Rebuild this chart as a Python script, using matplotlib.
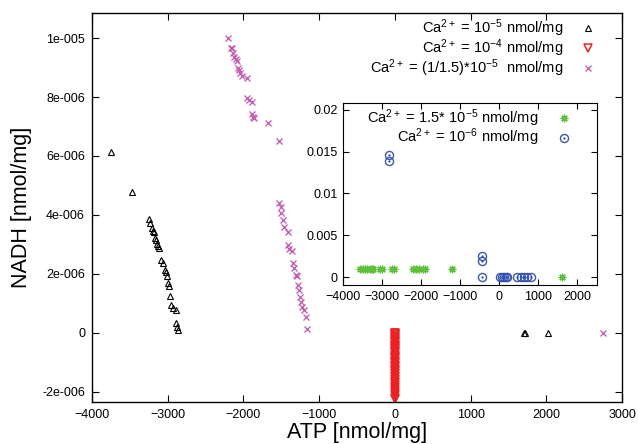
import matplotlib
matplotlib.use("Agg")
import matplotlib.pyplot as plt

plt.rcParams["font.family"] = ["Liberation Sans", "DejaVu Sans"]
plt.rcParams["mathtext.default"] = "regular"

# main plot data (ATP, NADH)
atp_a = [-3749, -3472, -3247, -3234, -3211, -3198, -3181, -3168, -3155, -3146, -3124, -3111,
         -3089, -3067, -3036, -3027, -3014, -3000, -2987, -2970, -2956, -2934, -2890, -2890,
         -2873, -2860, 1700, 1720, 2024]
nadh_a = [6.14, 4.78, 3.86, 3.72, 3.55, 3.47, 3.43, 3.21, 3.15, 3.01, 2.93, 2.87,
          2.47, 2.36, 2.14, 2.05, 1.93, 1.68, 1.57, 1.25, 0.95, 0.84, 0.78, 0.33,
          0.21, 0.08, 0.0, 0.0, 0.0]

nadh_b = [0.0, -0.02, -0.05, -0.08, -0.11, -0.14, -0.17, -0.2, -0.23, -0.27, -0.3, -0.33,
          -0.37, -0.4, -0.44, -0.47, -0.51, -0.54, -0.58, -0.62, -0.66, -0.7, -0.74, -0.78,
          -0.82, -0.86, -0.9, -0.95, -1.0, -1.04, -1.08, -1.13, -1.17, -1.22, -1.26, -1.31,
          -1.36, -1.41, -1.46, -1.51, -1.56, -1.61, -1.67, -1.72, -1.78, -1.84, -1.9, -1.97,
          -2.04, -2.12, -2.2, -2.26]
atp_b = [0] * len(nadh_b)

atp_c = [-2207, -2168, -2147, -2133, -2120, -2102, -2089, -2075, -2058, -2045, -2022, -1956,
         -1956, -1926, -1890, -1890, -1877, -1860, -1679, -1534, -1530, -1507, -1503, -1481,
         -1460, -1415, -1407, -1394, -1354, -1341, -1327, -1309, -1296, -1283, -1266, -1252,
         -1239, -1222, -1196, -1177, -1156, 2750]
nadh_c = [9.99, 9.68, 9.65, 9.48, 9.37, 9.28, 9.23, 8.97, 8.92, 8.80, 8.71, 8.63,
          7.96, 7.90, 7.84, 7.42, 7.33, 7.28, 7.13, 6.52, 4.42, 4.28, 4.08, 3.83,
          3.60, 3.41, 2.98, 2.85, 2.76, 2.36, 2.19, 1.97, 1.91, 1.63, 1.46, 1.23,
          1.06, 0.89, 0.78, 0.55, 0.13, 0.0]

# inset data
atp_d = [-3560, -3500, -3440, -3380, -3320, -3260, -3230, -3050, -3000, -2750, -2690,
         -2200, -2120, -2050, -1960, -1900, -1200, 1615]
nadh_d = [0.001, 0.001, 0.001, 0.001, 0.001, 0.001, 0.001, 0.001, 0.001, 0.001, 0.001,
          0.001, 0.001, 0.001, 0.001, 0.001, 0.00095, 0.0]

atp_e = [-2820, -2820, -440, -440, -440, 30, 80, 120, 170, 200, 460, 550, 620, 700, 800]
nadh_e = [0.0146, 0.0139, 0.0025, 0.0019, 0.0, 0.0, 0.0, 0.0, 0.0, 0.0, 0.0, 0.0, 0.0, 0.0, 0.0]

main_yticks = [-2e-6, 0, 2e-6, 4e-6, 6e-6, 8e-6, 1e-5]
main_ylabels = ["-2e-006", "0", "2e-006", "4e-006", "6e-006", "8e-006", "1e-005"]
main_xticks = [-4000, -3000, -2000, -1000, 0, 1000, 2000, 3000]
inset_xticks = [-4000, -3000, -2000, -1000, 0, 1000, 2000]
inset_yticks = [0, 0.005, 0.01, 0.015, 0.02]
inset_ylabels = ["0", "0.005", "0.01", "0.015", "0.02"]

style_a = dict(ls="none", marker="^", ms=4.5, mfc="none", mec="black", mew=0.8)
style_b = dict(ls="none", marker="v", ms=5.5, mfc="none", mec="#f02020", mew=1.1)
style_c = dict(ls="none", marker="x", ms=5, mec="#c455b0", mew=0.9)
style_d = dict(ls="none", marker=(8, 2, 0), ms=5.5, mec="#5cc038", mew=0.9)
style_e = dict(ls="none", marker=r"$\odot$", ms=6.5, mec="#3050b0", mfc="#3050b0", mew=0.3)


def key(ax, x_text, x_mark, y, label, style):
    # gnuplot style key: right aligned text, sample to the right
    ax.text(x_text, y, label, ha="right", va="center", fontsize=10.5,
            transform=ax.transAxes)
    ax.plot([x_mark], [y], transform=ax.transAxes, clip_on=False, **style)


fig = plt.figure(figsize=(6.38, 4.44), dpi=100)
ax = fig.add_axes([0.1442, 0.0946, 0.8308, 0.876])

ax.plot(atp_a, [v * 1e-6 for v in nadh_a], **style_a)
ax.plot(atp_b, [v * 1e-6 for v in nadh_b], **style_b)
ax.plot(atp_c, [v * 1e-6 for v in nadh_c], **style_c)

ax.set_xlim(-4000, 3000)
ax.set_ylim(-2.35e-6, 1.085e-5)
ax.set_xticks(main_xticks)
ax.set_yticks(main_yticks)
ax.set_yticklabels(main_ylabels)
ax.tick_params(direction="in", top=True, right=True, labelsize=9, length=5, width=0.8, pad=5)
ax.set_xlabel("ATP [nmol/mg]", fontsize=15.5, labelpad=1)
ax.set_ylabel("NADH [nmol/mg]", fontsize=15.5, labelpad=7)
for s in ax.spines.values():
    s.set_linewidth(1.0)

key(ax, 0.889, 0.936, 0.962, r"Ca$^{2+}$ = 10$^{-5}$ nmol/mg", style_a)
key(ax, 0.889, 0.936, 0.910, r"Ca$^{2+}$ = 10$^{-4}$ nmol/mg", style_b)
key(ax, 0.889, 0.936, 0.858, r"Ca$^{2+}$ = (1/1.5)*10$^{-5}$  nmol/mg", style_c)

ins = fig.add_axes([0.5376, 0.3581, 0.3981, 0.4099])
ins.plot(atp_d, nadh_d, **style_d)
ins.plot(atp_e, nadh_e, **style_e)
ins.set_xlim(-4000, 2500)
ins.set_ylim(-0.00095, 0.0208)
ins.set_xticks(inset_xticks)
ins.set_yticks(inset_yticks)
ins.set_yticklabels(inset_ylabels)
ins.tick_params(direction="in", top=True, right=True, labelsize=9, length=4, width=0.8, pad=4)

key(ins, 0.768, 0.870, 0.918, r"Ca$^{2+}$ = 1.5* 10$^{-5}$ nmol/mg", style_d)
key(ins, 0.768, 0.870, 0.810, r"Ca$^{2+}$ = 10$^{-6}$ nmol/mg", style_e)

fig.savefig("out.png", dpi=100)
